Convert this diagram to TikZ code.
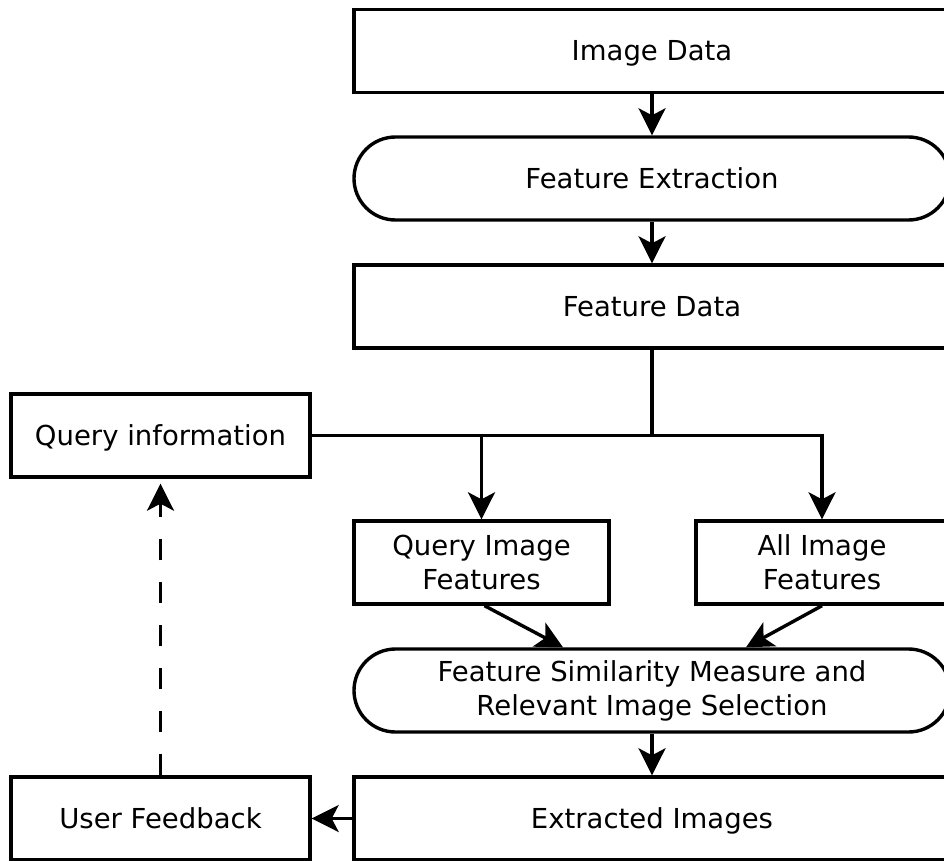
\documentclass[tikz,border=0pt]{standalone}
\usepackage{fontspec}
\setmainfont{DejaVu Sans}
\usetikzlibrary{arrows.meta,calc}
\begin{document}
\begin{tikzpicture}[x=1pt,y=-1pt,
  every node/.style={font=\fontsize{27.5}{34}\selectfont},
  box/.style={draw, line width=3.4pt, minimum width=#1, minimum height=83pt,
    inner sep=0pt, align=center},
  one/.style={text height=20pt, text depth=0pt},
  stadium/.style={box=#1, rounded corners=41.5pt},
  link/.style={line width=3.4pt},
  arr/.style={line width=3.4pt, -{Stealth[length=27pt,width=27pt,inset=7pt]}},
  fb/.style={arr, dash pattern=on 21pt off 22pt}
]
\useasboundingbox (0,0) rectangle (944,861);
\clip (0,0) rectangle (944,861);

% main column
\node[box=596pt, one]     (img) at (652,51)    {Image Data};
\node[stadium=596pt, one] (fe)  at (652,178.5) {Feature Extraction};
\node[box=596pt, one]     (fd)  at (652,306.5) {Feature Data};

% query side and feature sets
\node[box=299pt, one] (qi)  at (160.5,435.5) {Query information};
\node[box=255pt] (qif) at (481.5,562.5) {Query Image\\Features};
\node[box=252pt] (aif) at (822,562.5)   {All Image\\Features};

\node[stadium=596pt] (fsm) at (652,690.5) {Feature Similarity Measure and\\Relevant Image Selection};
\node[box=596pt, one]     (ext) at (652,818.5) {Extracted Images};
\node[box=299pt, one]     (uf)  at (160.5,818.5) {User Feedback};

% vertical flow
\draw[arr] (img.south) -- (fe.north);
\draw[arr] (fe.south) -- (fd.north);

% branch from feature data and query information
\coordinate (j) at (fd.south |- qi.east);
\draw[link] (fd.south) -- (j);
\draw[arr] (qi.east) -- (j -| aif.north) -- (aif.north);
\draw[arr] (j -| qif.north) -- (qif.north);

% into the similarity stage
\draw[arr] ($(qif.south)+(3,0)$) -- ($(fsm.north)+(-89,0)$);
\draw[arr] (aif.south) -- ($(fsm.north)+(94,0)$);
\draw[arr] (fsm.south) -- (ext.north);

% feedback loop
\draw[arr] (ext.west) -- (uf.east);
\draw[fb] (uf.north) -- ($(qi.south)+(0,5)$);
\end{tikzpicture}
\end{document}
